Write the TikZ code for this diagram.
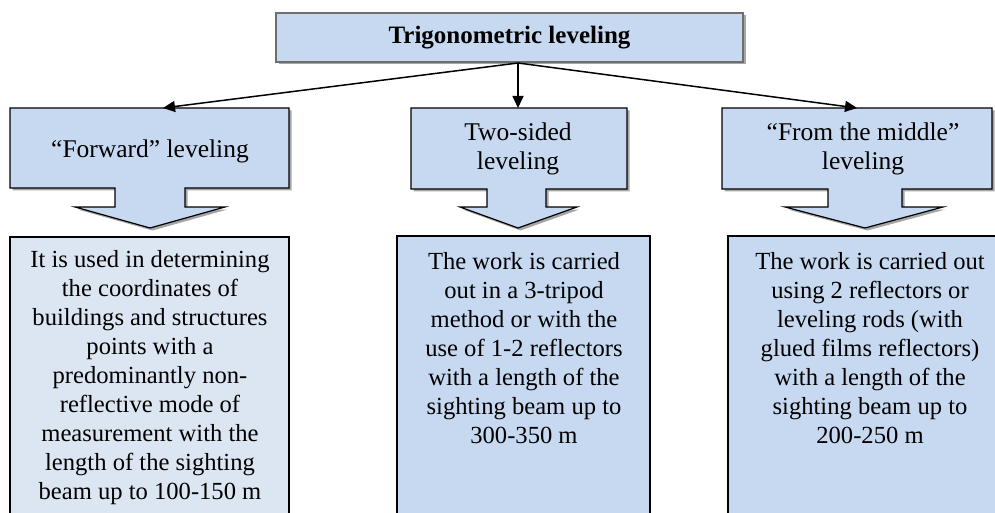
\documentclass[tikz,border=0pt]{standalone}
\usepackage{fontspec}
\setmainfont{Liberation Serif}
\usetikzlibrary{arrows.meta,shadows}
\definecolor{boxblue}{HTML}{C6D9F1}
\definecolor{lightblue}{HTML}{DCE6F2}
\definecolor{titleborder}{HTML}{6E6E6E}
\tikzset{
  shad/.style={drop shadow={shadow xshift=2.5pt,shadow yshift=-2.5pt,fill=black,opacity=0.35}},
  callout/.style={draw=black,line width=1.2pt,fill=boxblue,shad,line join=miter},
  infobox/.style={draw=black,line width=1.2pt,fill=boxblue},
  bodytext/.style={font=\fontsize{24.6}{29}\selectfont,align=center,inner sep=0pt,anchor=north},
  headtext/.style={font=\fontsize{25.5}{29}\selectfont,align=center,inner sep=0pt},
  conn/.style={-{Triangle[length=12pt,width=11pt]},line width=1.5pt,black}
}
\begin{document}
\begin{tikzpicture}[x=1pt,y=-1pt]
\useasboundingbox (0,0) rectangle (995,513);
% title
\node[draw=titleborder,line width=2pt,fill=boxblue,shad,minimum width=467pt,minimum height=49pt,inner sep=0pt,
  font=\bfseries\fontsize{25}{29}\selectfont] (title) at (509.5,37.5) {Trigonometric leveling};
\coordinate (src) at (518,63);
% callouts
\draw[callout] (10,108) -- (289,108) -- (289,188) -- (185,188) -- (185,207) -- (225,207) -- (150,228)
  -- (75,207) -- (115,207) -- (115,188) -- (10,188) -- cycle;
\draw[callout] (411,108) -- (627,108) -- (627,189) -- (546,189) -- (546,207) -- (577,207) -- (518,228)
  -- (460,207) -- (487,207) -- (487,189) -- (411,189) -- cycle;
\draw[callout] (722,108) -- (992,108) -- (992,189) -- (902,189) -- (902,207) -- (943,207) -- (865,228)
  -- (785,207) -- (828,207) -- (828,189) -- (722,189) -- cycle;
\coordinate (tl) at (163,108);
\coordinate (tm) at (518,108);
\coordinate (tr) at (857,108);
\node[headtext] (fwd) at (150,151) {“Forward” leveling};
\node[headtext] (two) at (518,149) {Two-sided\\leveling};
\node[headtext] (mid) at (863,149) {“From the middle”\\leveling};
% connectors
\draw[conn] (src) -- (tl);
\draw[conn] (src) -- (tm);
\draw[conn] (src) -- (tr);
% bottom boxes
\draw[infobox,fill=lightblue] (10,237) rectangle (289,518);
\draw[infobox] (397,236) rectangle (650,518);
\draw[infobox] (728,236) rectangle (1012,518);
\node[bodytext] (b1) at (150,250) {It is used in determining\\the coordinates of\\buildings and structures\\points with a\\predominantly non-\\reflective mode of\\measurement with the\\length of the sighting\\beam up to 100-150 m};
\node[bodytext] (b2) at (524,252) {The work is carried\\out in a 3-tripod\\method or with the\\use of 1-2 reflectors\\with a length of the\\sighting beam up to\\300-350 m};
\node[bodytext] (b3) at (870,252) {The work is carried out\\using 2 reflectors or\\leveling rods (with\\glued films reflectors)\\with a length of the\\sighting beam up to\\200-250 m};
\end{tikzpicture}
\end{document}
